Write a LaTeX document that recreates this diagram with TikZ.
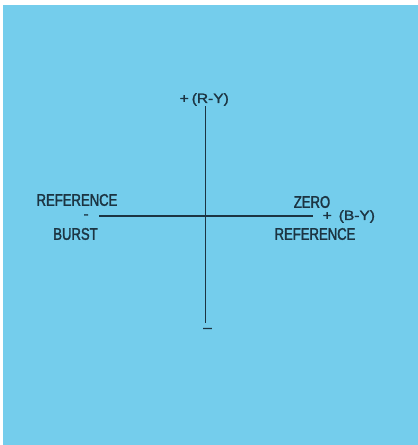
\documentclass[tikz,border=0pt]{standalone}
\usepackage{fontspec}
\setmainfont{Liberation Sans}[FakeStretch=0.78,FakeBold=1.8]
\newfontfamily\axisfont{Liberation Sans}[FakeStretch=1.15,FakeBold=1.6]
\definecolor{bgblue}{RGB}{116,205,236}
\definecolor{ink}{RGB}{28,52,66}
\begin{document}
\begin{tikzpicture}[x=1pt,y=-1pt,
  lbl/.style={inner sep=0pt,text=ink,font=\fontsize{16.8}{17}\selectfont},
  axl/.style={inner sep=0pt,text=ink,font=\axisfont\fontsize{13.5}{14}\selectfont},
  axis/.style={draw=ink,line width=1.6pt}]
\useasboundingbox (0,0) rectangle (418,445);
\fill[white] (0,0) rectangle (418,445);
\fill[bgblue] (3,5) rectangle (418,445);
% axis end points
\coordinate (top) at (205.5,106);
\coordinate (bot) at (205.5,323);
\coordinate (left) at (99,216);
\coordinate (right) at (313,216);
\draw[axis] (top) -- (bot);
\draw[axis] (left) -- (right);
% labels
\node[axl,anchor=west] (ry) at (179.5,99.5) {+\hspace{3pt}(R-Y)};
\node[axl,anchor=west] (by) at (322.5,216.5) {+\hspace{7pt}(B-Y)};
\node[lbl] (refl) at (77,200) {REFERENCE};
\node[lbl] (burst) at (75.5,234) {BURST};
\node[lbl] (zero) at (312,202) {ZERO};
\node[lbl] (refr) at (315,234) {REFERENCE};
\node[axl] (minl) at (86,216.5) {-};
\node[axl] (minb) at (207.5,330) {–};
\end{tikzpicture}
\end{document}
